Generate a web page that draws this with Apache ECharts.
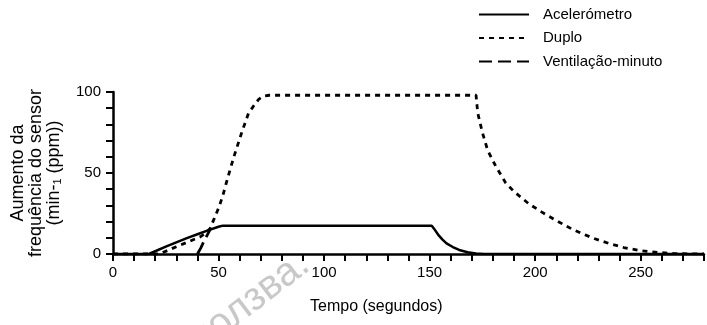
<!DOCTYPE html>
<html><head><meta charset="utf-8">
<script src="https://cdn.jsdelivr.net/npm/echarts@6/dist/echarts.min.js"></script>
<style>html,body{margin:0;padding:0;background:#fff}#c{width:707px;height:325px}</style>
</head><body><div id="c"></div>
<script>
// Acelerómetro (solid)
const acelX = [0, 17, 20, 25, 30, 35, 40, 45, 50, 52, 151, 152, 154, 156, 158, 161, 164, 168, 172, 176, 280];
const acelY = [0, 0, 1.7, 4.5, 7.2, 9.8, 12.2, 14.6, 16.8, 17.5, 17.5, 15.8, 12, 9, 6.6, 4.3, 2.5, 1.1, 0.3, 0, 0];
// Duplo (short dashes)
const duploX = [0, 22, 30, 36, 41.5, 44, 46, 48, 50.4, 52.1, 54.5, 57.2, 61.1, 64.2, 66.6, 69, 71.3, 74, 172, 172.8, 175, 177.5, 181.4, 186, 190, 197, 203, 209.5, 218, 227, 235, 242, 250, 258, 266, 280];
const duploY = [0, 0, 4.5, 7.7, 10.7, 13, 15.8, 22, 29.6, 36.4, 47.7, 59.7, 75.5, 86.9, 91.4, 95.5, 97.5, 98, 98, 87, 75, 64, 54, 44, 38.5, 31, 26, 21, 15, 10, 6.5, 4, 2, 1, 0.2, 0];
// Ventilação-minuto (long dashes)
const ventX = [40, 41.5, 43, 44.5, 46];
const ventY = [0, 3.5, 7.6, 11.3, 15];

const seriesNames = ['Acelerómetro', 'Duplo', 'Ventilação-minuto'];
const xTickLabels = [0, 50, 100, 150, 200, 250];
const yTickLabels = [0, 50, 100];
const xTitle = 'Tempo (segundos)';
const yTitle = 'Aumento da\nfrequência do sensor\n(min-₁ (ppm))';
const watermark = 'ползва.';

function pairs(xs, ys) { return xs.map((x, i) => [x, ys[i]]); }

const font = '"Liberation Sans", Arial, sans-serif';
const chart = echarts.init(document.getElementById('c'), null, {renderer: 'canvas'});
const axisCommon = {
  type: 'value',
  interval: 10,
  axisLine: {show: true, lineStyle: {color: '#000', width: 2.5}},
  axisTick: {show: true, length: 7, lineStyle: {color: '#000', width: 2}},
  splitLine: {show: false}
};
chart.setOption({
  animation: false,
  textStyle: {fontFamily: font},
  title: {
    text: xTitle, left: 310, top: 299, padding: 0,
    textStyle: {fontSize: 16, fontWeight: 'normal', color: '#000', fontFamily: font}
  },
  legend: {
    data: seriesNames, orient: 'vertical', left: 473, top: 2,
    itemWidth: 50, itemHeight: 15, itemGap: 8.5, selectedMode: false,
    itemStyle: {opacity: 0, color: 'rgba(0,0,0,0)', borderWidth: 0},
    textStyle: {fontSize: 15, color: '#000', fontFamily: font, padding: [0, 0, 0, 9]}
  },
  grid: {left: 113, right: -3, top: 92, bottom: 71},
  xAxis: Object.assign({}, axisCommon, {
    min: 0, max: 280,
    axisLabel: {
      formatter: v => xTickLabels.includes(v) ? String(v) : '',
      margin: 11, fontSize: 15, color: '#000', fontFamily: font
    }
  }),
  yAxis: Object.assign({}, axisCommon, {
    min: 0, max: 100,
    axisLabel: {
      formatter: v => yTickLabels.includes(v) ? String(v) : '',
      margin: 12, fontSize: 15, color: '#000', fontFamily: font
    },
    name: yTitle, nameLocation: 'middle', nameGap: 50,
    nameTextStyle: {fontSize: 18, lineHeight: 18, color: '#000', fontFamily: font}
  }),
  graphic: [{
    type: 'text', x: 305, y: 260, rotation: 0.65, z: 0, silent: true,
    style: {text: watermark, fill: '#c8c8c8', font: '40px "Liberation Sans", Arial, sans-serif',
            textAlign: 'right', textVerticalAlign: 'middle'}
  }],
  series: [
    {name: seriesNames[0], type: 'line', data: pairs(acelX, acelY), symbol: 'none', z: 4,
     lineStyle: {color: '#000', width: 2.5, type: 'solid'}, itemStyle: {color: '#000'}},
    {name: seriesNames[1], type: 'line', data: pairs(duploX, duploY), symbol: 'none', z: 3,
     lineStyle: {color: '#000', width: 2.8, type: [5, 5]}, itemStyle: {color: '#000'}},
    {name: seriesNames[2], type: 'line', data: pairs(ventX, ventY), symbol: 'none', z: 3,
     lineStyle: {color: '#000', width: 2.8, type: [13, 6]}, itemStyle: {color: '#000'}}
  ]
});
</script></body></html>
